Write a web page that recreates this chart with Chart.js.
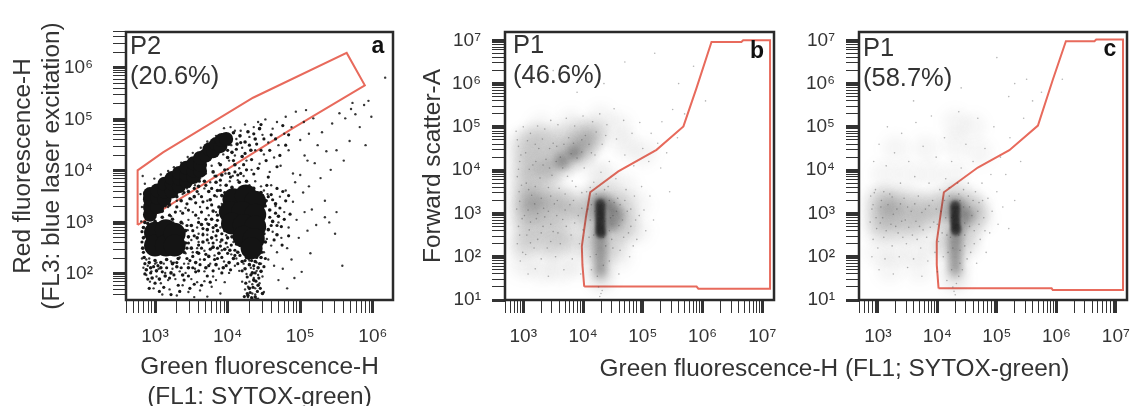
<!DOCTYPE html>
<html>
<head>
<meta charset="utf-8">
<script src="https://cdn.jsdelivr.net/npm/chart.js@4"></script>
<style>
  body { margin: 0; background: #fff; width: 1132px; height: 406px; overflow: hidden; position: relative; }
  canvas { position: absolute; top: 0; filter: blur(0.4px); }
  #wideTitle { position: absolute; left: 599px; top: 354px; width: 471px; white-space: nowrap; text-align: center;
    font: 24.4px "Liberation Sans", Arial, sans-serif; color: #333; filter: blur(0.3px); }
</style>
</head>
<body>
<canvas id="panelA" width="410" height="412" style="left:0"></canvas>
<canvas id="panelB" width="380" height="412" style="left:410px"></canvas>
<canvas id="panelC" width="342" height="412" style="left:790px"></canvas>
<div id="wideTitle">Green fluorescence-H (FL1; SYTOX-green)</div>
<script>
// all values are log10 decades

// panel a
const aGate = [[2.76,2.95],[2.76,4.01],[3.11,4.36],[4.35,5.42],[5.64,6.29],[5.89,5.66],[4.9,4.83],[3.62,3.7],[2.76,2.95]];
const aBlobs = [[4.08,3.45],[4.25,3.52],[4.38,3.4],[4.03,3.2],[4.2,3.2],[4.38,3.15],[4.06,2.98],[4.22,2.95],[4.38,2.92],[4.22,2.72],[4.36,2.68],[4.33,2.5],
  [3.0,2.8],[3.0,2.55],[3.15,2.85],[3.15,2.55],[3.27,2.78],[3.27,2.55]];
const aBand = [[2.93,3.15],[2.93,3.3],[2.93,3.45],[2.93,3.55],[3.03,3.3],[3.03,3.48],[3.03,3.62],[3.13,3.45],[3.13,3.6],[3.13,3.75],[3.23,3.6],[3.23,3.75],[3.23,3.86],[3.33,3.7],[3.33,3.85],[3.33,3.96],[3.43,3.8],[3.43,3.92],[3.43,4.06],[3.53,3.88],[3.53,4.0],[3.53,4.15],[3.62,4.0],[3.62,4.12],[3.62,4.25],[3.7,4.3],[3.75,4.42],[3.8,4.38],[3.84,4.52],[3.9,4.48],[3.92,4.6],[3.98,4.62]];
const aSpeckle = [[2.86,3.0],[2.9,3.12],[2.98,3.22],[3.06,3.34],[3.1,3.22],[3.16,3.46],[3.22,3.56],[3.28,3.66],[3.2,3.34],[3.3,3.5],[3.36,3.72],[3.42,3.76],[3.36,3.42],[3.46,3.6],[3.5,3.82],[3.54,3.5],[3.58,3.92],[3.6,3.7],[3.66,4.02],[3.68,3.8],[3.7,4.2],[3.74,3.6],[3.78,4.3],[3.8,3.98],[3.84,3.78],[3.86,4.34],[3.9,4.12],[3.92,3.92],[3.96,4.46],[4.0,4.26],[4.02,4.52],[4.06,4.36],[4.08,4.74],[4.1,4.12],[4.13,4.52],[4.17,4.68],[4.2,4.28],[4.24,4.56],[4.28,4.76],[4.32,4.4],[4.38,4.62],[4.44,4.82],
  [3.76,3.44],[3.8,3.22],[3.86,3.62],[3.88,3.3],[3.78,3.06],[3.92,3.52],[3.84,2.94],[3.98,3.72],[4.06,3.68],[4.16,3.78],[4.26,3.8],[4.36,3.66],[4.46,3.58],[4.53,3.42],[4.58,3.24],[4.62,3.02],[4.56,2.86],[4.52,2.62],[4.5,2.78],[4.48,3.52],[4.66,3.36],[4.7,3.12],[4.68,2.76],
  [2.84,2.9],[2.84,2.7],[2.83,2.5],[2.85,2.32],[2.92,2.22],[3.0,2.26],[3.08,2.22],[3.16,2.28],[3.24,2.2],[3.32,2.3],[3.4,2.42],[3.42,2.6],[3.42,2.84],[3.36,3.0],[3.24,3.06],[3.1,3.1],[3.0,3.02],[2.9,2.98],[3.46,2.72],[3.5,2.5],[3.5,2.94],[3.58,2.7],[3.6,2.4],[3.64,2.96],[3.66,2.62],[3.72,2.86],[3.74,2.34],[3.78,2.7],[3.8,2.52],[3.86,2.84],[3.88,2.4],[3.92,2.66],[3.94,2.92],[3.96,2.48],[4.0,2.7],[4.03,2.46],[4.06,2.72],[4.08,2.3],[4.02,2.22],[3.94,2.12],[3.84,2.18],[3.7,2.12],[3.56,2.22],[3.46,2.12],
  [4.14,2.42],[4.18,2.56],[4.2,2.24],[4.26,2.32],[4.24,2.1],[4.3,2.18],[4.34,2.02],[4.38,2.24],[4.42,2.12],[4.46,2.32],[4.46,2.05],[4.36,1.88],[4.3,1.72],[4.38,1.55],[4.42,1.78],[4.48,1.62],[4.28,1.58],[4.34,1.5],
  [2.88,2.08],[2.94,2.12],[3.02,2.06],[3.08,2.12],[3.14,1.96],[3.22,2.02],[3.3,2.14],[3.38,1.98],[3.06,1.9],[2.96,1.92]];
const aFill = [[3.32,3.62],[3.4,3.58],[3.47,3.7],[3.54,3.66],[3.61,3.8],[3.48,3.46],[3.56,3.38],[3.64,3.5],[3.7,3.72],[3.78,3.66],[3.84,3.9],[3.9,3.82],[3.96,4.02],[4.02,3.95],[3.44,3.36],[3.58,3.6],[3.66,3.4],[3.72,3.28],[3.82,3.52],[3.9,3.62],[3.96,3.58],[4.04,3.88],[4.1,3.98],[4.18,3.95],[3.3,3.3],[3.38,3.18],[3.46,3.24],[3.56,3.14],[3.64,3.2],[3.7,3.06],[3.78,3.34],[3.86,3.14],[3.92,3.2],[3.28,3.2],[3.2,3.14],[3.14,3.32],
  [3.44,2.94],[3.52,2.84],[3.6,3.0],[3.66,2.88],[3.74,2.96],[3.8,2.9],[3.86,3.04],[3.92,2.78],[3.46,2.6],[3.54,2.74],[3.6,2.56],[3.66,2.76],[3.72,2.66],[3.8,2.6],[3.84,2.74],[3.9,2.54],[3.96,2.84],[3.98,2.6],[3.44,2.5],[3.52,2.34],[3.58,2.42],[3.64,2.5],[3.7,2.38],[3.76,2.48],[3.82,2.28],[3.86,2.5],[3.92,2.32],[4.0,2.4],[4.05,2.56],[4.1,2.46],[3.48,2.26],[3.56,2.04],[3.62,2.18],[3.68,2.28],[3.74,2.16],[3.8,2.06],[3.86,2.3],[3.92,2.02],[3.98,2.16],[4.04,2.08],[4.1,2.36],
  [4.12,2.58],[4.14,2.2],[4.17,2.36],[4.2,2.06],[4.22,2.42],[4.24,2.26],[4.27,1.94],[4.29,2.3],[4.32,1.98],[4.33,2.26],[4.36,2.16],[4.38,2.02],[4.4,2.32],[4.43,1.92],[4.44,2.2],[4.47,2.42],[4.5,2.14],[4.52,2.3],[4.25,1.82],[4.31,1.64],[4.35,1.74],[4.39,1.86],[4.41,1.66],[4.45,1.72],[4.27,1.62],[4.33,1.54],[4.4,1.5],[4.23,1.56],
  [4.52,3.32],[4.56,3.5],[4.58,3.1],[4.6,2.94],[4.62,3.44],[4.64,2.66],[4.66,3.18],[4.68,2.94],[4.72,3.28],[4.74,2.92],[4.75,2.56],[4.78,3.06],[4.8,3.42],[4.84,2.74],[4.86,3.16],[4.54,3.72],[4.6,3.54],[4.68,3.66],[4.76,3.6],[4.84,3.52],
  [4.0,4.4],[4.04,4.6],[4.08,4.2],[4.12,4.42],[4.14,3.92],[4.18,4.55],[4.22,4.12],[4.24,4.34],[4.26,4.02],[4.3,4.5],[4.33,4.22],[4.36,3.94],[4.36,4.72],[4.4,4.52],[4.42,4.05],[4.46,4.4],[4.46,4.9],[4.5,4.62],[4.53,4.2],[4.56,3.88],[4.58,4.4],[4.6,4.7],[4.66,4.62],[4.68,4.08],[4.72,4.3],[4.76,4.88],[4.8,4.5],[4.84,4.7],
  [2.82,2.62],[2.82,2.82],[2.84,2.42],[2.86,2.2],[2.86,2.0],[2.9,1.9],[2.94,2.02],[2.98,2.14],[3.04,2.16],[3.1,2.04],[3.12,1.74],[3.16,2.12],[3.2,1.92],[3.26,1.98],[3.3,2.22],[3.32,1.78],[3.36,2.12],[3.4,1.88],[3.44,2.3],[3.46,1.96],[3.52,2.12],[3.54,1.8],[3.6,2.06],[3.64,1.78],[3.72,1.96],[3.76,1.84],[2.92,1.72],[3.0,1.82],[3.06,1.66],[3.22,1.6],[3.34,1.66],[3.48,1.72]];
const aDots = [[2.83,3.9],[2.86,3.75],[2.8,3.55],[2.82,3.3],[2.81,3.02],[2.84,2.9],[2.99,3.85],[3.08,3.93],[3.18,4.0],[3.26,4.07],[3.36,4.16],[3.45,4.27],[3.52,4.35],[3.63,4.45],[3.72,4.57],[3.84,4.68],[3.95,4.83],[4.04,4.85],[4.1,4.78],
  [3.0,3.1],[3.08,3.2],[3.18,3.3],[3.22,3.12],[3.3,3.42],[3.38,3.55],[3.42,3.28],[3.44,3.66],[3.5,3.45],[3.55,3.72],[3.6,3.55],[3.62,3.85],[3.68,3.66],[3.7,3.95],[3.76,3.78],[3.78,4.1],[3.82,3.9],[3.88,4.15],[3.9,3.72],[3.94,4.32],[3.97,3.95],[4.02,4.2],[4.03,3.8],[3.35,3.22],[3.52,3.2],[3.62,3.3],[3.72,3.42],[3.85,3.5],[3.92,3.36],[3.46,3.05],[3.6,3.08],[3.74,3.14],[3.84,3.2],[3.12,3.03],[3.25,3.0],
  [4.05,4.5],[4.1,4.3],[4.12,4.62],[4.16,4.05],[4.18,4.78],[4.2,4.45],[4.24,4.9],[4.26,4.2],[4.3,4.66],[4.33,4.02],[4.36,4.85],[4.38,4.4],[4.42,4.95],[4.44,4.14],[4.48,4.7],[4.5,4.32],[4.52,5.0],[4.56,4.55],[4.58,3.98],[4.62,4.82],[4.64,4.26],[4.68,4.95],[4.7,4.5],[4.73,4.1],[4.78,4.72],[4.8,5.05],[4.84,4.4],[4.88,4.85],[4.9,3.95],[4.94,5.15],[5.0,4.6],[5.05,4.95],[5.1,4.2],[3.9,4.48],[4.0,4.03],[4.07,3.9],[4.14,3.82],[4.22,3.9],[4.3,3.72],[4.38,3.8],[4.46,3.7],
  [3.38,2.98],[3.45,2.85],[3.5,2.66],[3.52,2.42],[3.58,2.9],[3.6,2.62],[3.62,2.28],[3.66,2.78],[3.68,2.45],[3.72,2.98],[3.74,2.6],[3.76,2.2],[3.8,2.82],[3.82,2.36],[3.85,2.66],[3.88,2.1],[3.9,2.9],[3.92,2.46],[3.95,2.24],[3.98,2.75],[4.0,2.52],[4.02,2.02],[4.05,2.38],[4.08,2.62],[4.1,2.16],[3.42,2.4],[3.46,2.2],[3.55,2.1],[3.68,2.05],[3.8,1.95],[3.34,2.32],[3.22,2.24],[3.12,2.2],[3.0,2.2],[2.88,2.28],[3.58,2.5],[3.72,2.76],[3.9,2.62],[3.78,2.5],[3.6,2.78],
  [2.85,2.72],[2.83,2.5],[2.82,2.3],[2.84,2.12],[2.88,1.98],[2.9,2.16],[2.93,1.85],[2.95,2.05],[2.98,1.72],[3.02,1.95],[3.05,2.1],[3.08,1.82],[3.1,1.6],[3.14,2.02],[3.18,1.88],[3.2,1.7],[3.24,2.1],[3.28,1.9],[3.3,1.58],[3.34,2.05],[3.38,1.78],[3.42,2.02],[3.46,1.65],[3.5,1.9],[3.54,1.55],[3.58,1.84],[3.62,1.68],[3.68,1.86],[3.72,1.56],[3.78,1.75],[3.84,1.88],[3.9,1.62],[3.96,1.84],[3.02,2.22],[2.92,2.3],[3.16,2.28],[3.26,2.22],[3.4,2.2],
  [4.12,2.3],[4.16,2.06],[4.2,1.85],[4.22,2.2],[4.24,1.7],[4.26,2.0],[4.28,1.55],[4.3,1.85],[4.32,2.12],[4.34,1.62],[4.36,1.92],[4.38,1.72],[4.4,2.06],[4.42,1.52],[4.44,1.82],[4.46,2.2],[4.48,1.95],[4.5,1.65],[4.3,2.26],[4.4,2.22],[4.36,2.1],[4.42,1.98],[4.28,1.75],[4.34,1.8],[4.38,1.6],
  [4.5,2.42],[4.54,2.68],[4.56,2.28],[4.6,2.55],[4.62,2.82],[4.64,2.16],[4.66,3.32],[4.68,2.42],[4.7,3.0],[4.72,3.5],[4.74,2.7],[4.76,2.1],[4.78,3.2],[4.8,3.62],[4.82,2.5],[4.84,2.9],[4.88,2.28],[4.9,3.4],[4.93,3.78],[4.95,3.05],[4.98,2.7],[5.02,2.04],[5.04,3.58],[5.06,3.2],[5.1,2.84],[5.14,2.4],[4.7,1.88],[4.82,1.72],[4.92,1.92],[4.55,3.55],[4.6,3.72],[4.5,3.62],
  [5.0,3.92],[5.06,4.3],[5.12,3.7],[5.16,3.25],[5.2,4.15],[5.22,2.95],[5.24,4.5],[5.28,3.86],[5.3,4.75],[5.34,3.42],[5.36,4.38],[5.4,3.0],[5.42,4.02],[5.44,4.92],[5.48,2.78],[5.5,4.4],[5.54,5.12],[5.58,2.16],[5.6,4.2],[5.62,5.02],[5.68,4.58],[5.72,5.32],[5.76,5.1],[5.82,4.85],[5.88,5.28],[5.7,5.2],[5.5,3.2],[5.34,3.1],[5.94,5.36],[6.17,5.81],[5.9,4.5],[5.98,5.05],[5.12,4.72],[5.18,5.02],[5.08,5.18]];

// panel b
const bGate = [[4.02,1.31],[3.99,1.81],[3.98,2.24],[4.05,2.93],[4.12,3.49],[4.59,3.97],[5.23,4.47],[5.68,5.01],[5.9,5.9],[6.15,6.96],[6.65,6.96],[6.68,7.0],[7.13,7.0],[7.13,1.26],[5.93,1.26],[5.9,1.31],[4.02,1.31]];
const bFaint = [[3.0,1.8],[3.3,1.7],[3.6,1.7],[3.9,1.8],[4.6,2.0],[4.9,2.6],[4.9,3.2],[4.7,3.6],[4.4,3.8],[4.2,4.0],[4.7,4.6],[5.0,4.4],[4.6,5.0],[4.3,5.2],[3.8,5.1],[3.3,5.0],[3.0,2.2],[3.5,2.2],[3.9,2.3]];
const bFog = [[2.98,4.6],[3.15,4.75],[3.35,4.7],[3.6,4.75],[3.9,4.85],[4.15,4.9],[2.98,4.2],[3.15,4.3],[3.35,4.35],[3.6,4.4],[3.85,4.55],[4.05,4.65],[2.98,3.8],[3.15,3.9],[3.35,4.0],[3.55,4.05],[3.75,4.25],[3.95,4.4],
  [3.4,3.95],[3.7,4.25],[4.0,4.5],[4.2,4.75],
  [2.98,3.4],[3.15,3.5],[3.35,3.45],[3.55,3.4],[3.75,3.3],[2.98,3.05],[3.15,3.1],[3.35,3.1],[3.55,3.1],[3.75,3.05],[3.95,3.0],[3.0,2.75],[3.2,2.75],[3.4,2.75],[3.6,2.7],[3.1,3.25],[3.25,3.25],
  [3.0,2.35],[3.25,2.35],[3.5,2.3],[3.75,2.4],
  [4.1,3.3],[4.25,3.4],[4.45,3.35],[4.65,3.2],[4.1,2.95],[4.3,3.0],[4.5,3.0],[4.7,2.9],[4.15,2.6],[4.3,2.65],[4.5,2.65],[4.7,2.6],[4.15,2.25],[4.3,2.2],[4.5,2.25],[4.3,1.85],[4.3,1.5]];
const bMid = [[4.22,3.25],[4.3,3.3],[4.42,3.25],[4.22,3.0],[4.4,3.05],[4.5,3.1],[4.58,2.95],[4.4,2.8],[4.5,2.75],[4.3,2.6],[4.29,2.45],[4.29,2.25],[4.29,2.05],[4.29,1.85],[4.29,1.65],[3.65,4.2],[3.85,4.4]];
const bCore = [[4.29,3.22],[4.29,3.12],[4.29,3.02],[4.29,2.92],[4.29,2.82],[4.29,2.72],[4.29,2.62],[4.3,2.54]];
const bDots = [[2.88,4.9],[2.92,4.55],[2.94,4.2],[2.9,3.85],[2.93,3.5],[2.89,3.1],[2.92,2.7],[2.9,2.3],[2.95,1.9],[3.0,5.0],[3.04,4.4],[3.05,3.7],[3.02,2.95],[3.06,2.5],[3.04,2.05],[3.08,1.6],[3.12,4.85],[3.16,4.12],[3.14,3.42],[3.12,2.8],[3.18,2.2],[3.2,1.72],[3.24,5.02],[3.26,4.5],[3.28,3.82],[3.24,3.0],[3.3,2.55],[3.3,1.95],[3.36,4.95],[3.38,4.25],[3.42,3.6],[3.36,2.92],[3.4,2.2],[3.42,1.55],[3.46,5.15],[3.5,4.62],[3.48,3.88],[3.52,3.22],[3.5,2.58],[3.54,2.0],[3.58,5.05],[3.62,4.3],[3.6,3.58],[3.66,2.86],[3.62,2.3],[3.68,1.7],[3.72,5.2],[3.76,4.75],[3.74,3.86],[3.78,3.2],[3.8,2.5],[3.82,1.95],[3.86,5.02],[3.9,4.28],[3.88,3.62],[3.92,2.95],[3.94,2.3],[3.96,1.6],[4.0,5.25],[4.04,4.8],[4.02,4.05],[4.06,3.5],[4.08,3.1],[4.1,2.45],[4.12,2.0],[4.16,5.12],[4.2,4.35],[4.18,3.72],[4.22,3.45],[4.24,2.78],[4.14,1.7],[4.28,5.3],[4.32,4.6],[4.3,3.95],[4.36,3.55],[4.34,2.45],[4.26,1.3],[4.3,1.15],[4.28,1.08],[4.32,1.22],[4.4,5.05],[4.44,4.2],[4.42,3.62],[4.46,2.9],[4.48,2.4],[4.44,1.9],[4.52,5.42],[4.56,4.72],[4.55,3.8],[4.58,3.35],[4.6,2.72],[4.62,2.15],[4.6,1.6],[4.68,5.15],[4.7,4.35],[4.72,3.55],[4.74,3.05],[4.76,2.55],[4.78,2.0],[4.82,4.85],[4.85,4.1],[4.86,3.4],[4.88,2.85],[4.9,2.4],[4.95,5.1],[5.0,4.5],[4.98,3.62],[5.02,3.08],[5.05,2.6],[5.1,4.2],[5.14,4.85],[5.12,3.4],[5.18,2.85],[5.25,4.62],[5.3,4.05],[5.32,5.12],[5.4,4.4],[5.45,3.5],[5.5,5.4],[5.58,4.75],[5.6,6.0],[5.7,5.3],[5.85,6.4],[6.05,5.6],[4.7,6.5],[3.5,6.3],[3.9,5.8],[5.2,6.7],[4.35,6.0],
  [2.9,4.7],[2.96,4.35],[2.92,4.02],[2.97,3.65],[2.94,3.28],[2.98,2.88],[2.94,2.5],[2.99,2.1],[3.07,4.68],[3.1,4.02],[3.09,3.55],[3.08,3.08],[3.1,2.62],[3.12,2.32],[3.2,4.6],[3.21,4.2],[3.2,3.62],[3.19,3.22],[3.22,2.88],[3.24,2.4],[3.32,4.72],[3.33,4.12],[3.3,3.35],[3.34,3.12],[3.33,2.7],[3.44,4.5],[3.44,4.05],[3.46,3.4],[3.42,3.05],[3.46,2.75],[3.46,2.35],[3.56,4.55],[3.55,4.2],[3.57,3.3],[3.56,2.95],[3.58,2.55],[3.68,4.6],[3.66,4.05],[3.7,3.45],[3.7,3.08],[3.72,2.7],[3.8,4.38],[3.84,4.62],[3.82,3.75],[3.84,3.3],[3.86,2.78],[3.98,4.7],[3.98,4.42],[3.98,3.48],[3.98,3.12],[4.0,2.62],[4.1,4.6],[4.14,4.4],[4.12,3.6],[4.14,3.2],[4.12,2.85],[4.2,3.05],[4.18,2.5],[4.22,4.88],[4.38,4.8],[4.36,3.2],[4.36,2.82],[4.38,2.25],[4.22,2.05],[4.34,1.8],[4.24,1.55],[4.44,3.3],[4.44,2.6],[4.5,2.95],[4.52,3.25],[4.5,2.2],[4.56,3.05],[4.62,3.2],[4.66,2.85],[4.68,2.45],[4.7,3.3],[4.8,3.1],[4.8,2.7],[4.84,2.25],[4.94,2.95]];

// panel c
const cGate = [[4.02,1.27],[3.99,1.81],[3.99,2.35],[4.05,2.93],[4.11,3.49],[4.68,4.06],[5.21,4.46],[5.69,5.03],[5.94,6.09],[6.16,6.98],[6.64,6.98],[6.67,7.02],[7.12,7.02],[7.12,1.23],[5.94,1.23],[5.92,1.27],[4.02,1.27]];
const cFog = [[2.98,3.3],[3.15,3.35],[3.35,3.3],[3.55,3.25],[3.75,3.2],[3.95,3.2],[2.98,2.95],[3.15,3.0],[3.3,3.0],[3.5,2.95],[3.7,2.9],[3.9,2.9],[3.0,2.65],[3.2,2.65],[3.4,2.65],[3.65,2.65],[3.2,3.15],
  [4.15,3.3],[4.3,3.4],[4.5,3.3],[4.65,3.15],[4.15,3.0],[4.35,3.0],[4.55,3.0],[4.7,2.9],[4.2,2.65],[4.35,2.65],[4.55,2.65],[4.15,2.3],[4.3,2.25],[4.5,2.3],[4.3,1.85],[4.3,1.5]];
const cFaint = [[3.0,2.1],[3.3,2.1],[3.6,2.1],[3.9,2.2],[3.2,1.7],[3.7,1.7],[3.1,3.9],[3.5,3.9],[3.9,3.9],[4.3,3.9],[3.3,4.5],[3.8,4.5],[4.3,4.6],[4.7,4.4],[4.3,5.1],[4.6,5.0]];
const cMid = [[4.25,3.25],[4.38,3.2],[4.22,3.0],[4.4,3.0],[4.5,2.95],[4.4,2.75],[4.32,2.55],[4.3,2.4],[4.3,2.22],[4.3,2.05],[4.3,1.88],[4.3,1.7]];
const cCore = [[4.3,3.18],[4.3,3.08],[4.3,2.98],[4.3,2.88],[4.3,2.78],[4.31,2.68],[4.31,2.6]];
const cDots = [[2.88,3.4],[2.9,3.1],[2.87,2.8],[2.92,2.4],[2.9,2.0],[2.93,4.2],[2.96,3.55],[2.98,2.65],[3.0,2.2],[3.02,1.7],[3.02,4.6],[3.06,3.3],[3.08,2.9],[3.1,2.45],[3.12,1.95],[3.14,4.1],[3.16,5.0],[3.2,3.45],[3.22,2.75],[3.24,2.25],[3.26,1.6],[3.28,4.4],[3.32,3.1],[3.34,2.55],[3.36,2.0],[3.38,3.7],[3.4,4.85],[3.44,3.35],[3.46,2.85],[3.48,2.3],[3.5,1.75],[3.52,4.2],[3.56,3.05],[3.58,2.5],[3.6,1.95],[3.62,3.85],[3.64,5.1],[3.68,3.4],[3.7,2.7],[3.72,2.2],[3.74,1.55],[3.76,4.55],[3.8,3.1],[3.82,2.45],[3.84,1.9],[3.86,3.7],[3.9,5.25],[3.92,3.3],[3.94,2.8],[3.96,2.1],[3.98,4.3],[4.0,1.65],[4.04,3.55],[4.06,3.05],[4.08,2.55],[4.1,2.0],[4.12,4.75],[4.14,3.8],[4.16,1.45],[4.2,3.6],[4.22,2.45],[4.24,4.2],[4.26,1.3],[4.3,1.12],[4.28,1.2],[4.32,1.38],[4.34,3.7],[4.36,5.35],[4.38,2.15],[4.4,4.05],[4.42,1.7],[4.44,3.55],[4.46,2.5],[4.48,4.6],[4.5,1.95],[4.52,3.7],[4.54,3.15],[4.56,2.1],[4.6,4.2],[4.62,2.6],[4.64,3.5],[4.66,1.85],[4.68,5.2],[4.7,3.25],[4.72,2.4],[4.75,3.7],[4.78,2.9],[4.8,4.5],[4.82,2.1],[4.85,3.35],[4.88,2.55],[4.9,3.9],[4.92,3.05],[4.95,5.0],[5.0,3.5],[5.02,2.75],[5.06,4.3],[5.1,3.15],[5.15,3.9],[5.2,2.65],[5.22,4.75],[5.3,3.3],[5.4,4.2],[5.45,5.2],[5.6,5.6],[5.3,6.0],[5.5,6.1],[5.2,5.7],[5.75,5.8],[4.0,6.2],[5.0,6.6],[4.4,5.9],[3.6,5.6],[6.1,6.1],
  [2.92,3.2],[2.97,2.9],[2.94,3.48],[3.05,3.15],[3.04,2.78],[3.1,3.5],[3.14,2.6],[3.17,3.2],[3.24,3.38],[3.26,2.98],[3.3,2.7],[3.38,3.22],[3.4,2.82],[3.42,2.45],[3.5,3.15],[3.52,2.68],[3.62,3.22],[3.64,2.82],[3.66,2.4],[3.74,3.02],[3.76,2.62],[3.86,3.18],[3.88,2.68],[3.98,3.1],[4.0,2.75],[4.02,2.35],[4.12,3.3],[4.14,2.9],[4.16,2.5],[4.18,2.1],[4.2,3.4],[4.24,2.9],[4.26,2.2],[4.24,1.7],[4.36,3.45],[4.38,3.3],[4.36,2.5],[4.38,1.85],[4.36,1.55],[4.44,3.15],[4.46,2.78],[4.46,2.25],[4.52,3.4],[4.54,2.7],[4.58,2.95],[4.6,3.3],[4.62,2.3],[4.68,3.05],[4.7,2.75],[4.76,3.3],[4.8,2.6]];

// axis ticks
const minorSteps = [1, 2, 3, 4, 5, 6, 7, 8, 9];
const decadesAll = [1, 2, 3, 4, 5, 6, 7];
const superscripts = { 1: '\u00b9', 2: '\u00b2', 3: '\u00b3', 4: '\u2074', 5: '\u2075', 6: '\u2076', 7: '\u2077' };

// labels inside each box
const aLabels = ['P2', '(20.6%)', 'a'];
const bLabels = ['P1', '(46.6%)', 'b'];
const cLabels = ['P1', '(58.7%)', 'c'];

const fontName = '"Liberation Sans", Arial, sans-serif';
const inkColor = '#333';
const gateColor = '#e86a5c';

function toXY(pairs) {
  return pairs.map(p => ({ x: Math.pow(10, p[0]), y: Math.pow(10, p[1]) }));
}

function buildTicks(min, max) {
  const out = [];
  decadesAll.forEach(d => minorSteps.forEach(s => {
    const v = s * Math.pow(10, d);
    if (Math.log10(v) >= min - 0.001 && Math.log10(v) <= max + 0.001) out.push({ value: v });
  }));
  return out;
}

function isDecade(v) {
  const l = Math.log10(v);
  return Math.abs(l - Math.round(l)) < 1e-6;
}

function makeAxis(min, max, tickTop, pad, extra) {
  return Object.assign({
    type: 'logarithmic',
    bounds: 'data',
    min: Math.pow(10, min),
    max: Math.pow(10, max),
    grid: {
      drawOnChartArea: false,
      drawTicks: true,
      tickLength: 13,
      tickColor: '#333',
      tickWidth: ctx => (ctx.tick && isDecade(ctx.tick.value) ? 3 : 1)
    },
    border: { display: false },
    afterBuildTicks: axis => { axis.ticks = buildTicks(min, tickTop); },
    ticks: {
      autoSkip: false,
      maxRotation: 0,
      padding: pad,
      color: inkColor,
      font: { family: fontName, size: 19 },
      callback: v => (isDecade(v) ? '10' + superscripts[Math.round(Math.log10(v))] : '')
    }
  }, extra);
}

// draws the frame and the P1/P2 text
const panelPlugin = {
  id: 'panelPlugin',
  beforeDatasetDraw(chart, args) {
    const blur = chart.data.datasets[args.index].blurPx;
    if (blur) { chart.ctx.save(); chart.ctx.filter = 'blur(' + blur + 'px)'; }
  },
  afterDatasetDraw(chart, args) {
    if (chart.data.datasets[args.index].blurPx) chart.ctx.restore();
  },
  afterDraw(chart, args, opts) {
    const { ctx, chartArea: a } = chart;
    ctx.save();
    ctx.strokeStyle = '#2a2a2a';
    ctx.lineWidth = 2.5;
    ctx.strokeRect(a.left, a.top, a.right - a.left, a.bottom - a.top);
    ctx.fillStyle = inkColor;
    ctx.textBaseline = 'middle';
    ctx.font = '25.5px ' + fontName;
    ctx.fillText(opts.labels[0], a.left + opts.textLeft, 47 + opts.textDown);
    ctx.fillText(opts.labels[1], a.left + opts.textLeft, 77 + opts.textDown);
    ctx.fillStyle = '#111';
    ctx.font = 'bold 23px ' + fontName;
    ctx.textAlign = 'center';
    ctx.fillText(opts.labels[2], a.right - opts.tagRight, opts.tagY);
    ctx.restore();
  }
};

function layer(pairs, radius, color, blurPx) {
  return { data: toXY(pairs), pointRadius: radius, pointBackgroundColor: color, pointBorderWidth: 0, showLine: false, blurPx: blurPx };
}

function gateLayer(pairs) {
  return { data: toXY(pairs), showLine: true, pointRadius: 0, borderColor: gateColor, borderWidth: 2, fill: false, tension: 0 };
}

function makePanel(id, p) {
  return new Chart(document.getElementById(id), {
    type: 'scatter',
    data: { datasets: p.layers },
    plugins: [panelPlugin],
    options: {
      responsive: false,
      animation: false,
      layout: { autoPadding: false, padding: { left: 0, top: 32, right: p.rightPad, bottom: 0 } },
      scales: {
        x: makeAxis(p.xRange[0], p.xRange[1], p.xTop, 12, {
          afterFit: axis => { axis.height = 112; axis.paddingLeft = 0; axis.paddingRight = 0; },
          title: p.xTitle
        }),
        y: makeAxis(p.yRange[0], p.yRange[1], p.yTop, p.yPad, {
          afterFit: axis => { axis.width = p.left; axis.paddingTop = 0; axis.paddingBottom = 0; },
          title: p.yTitle
        })
      },
      plugins: {
        legend: { display: false },
        tooltip: { enabled: false },
        panelPlugin: { labels: p.labels, textLeft: p.textLeft, textDown: p.textDown, tagRight: p.tagRight, tagY: p.tagY }
      }
    }
  });
}

const titleFont = { family: fontName, size: 24.4, lineHeight: 1.22 };

makePanel('panelA', {
  left: 126, rightPad: 410 - 393, xRange: [2.6, 6.278], yRange: [1.494, 6.696], xTop: 6.0, yTop: 6.7, yPad: 20,
  labels: aLabels, textLeft: 4, textDown: 0, tagRight: 15, tagY: 47,
  layers: [layer(aBlobs, 11, '#141414'), layer(aBand, 7, '#141414'), layer(aSpeckle, 1.8, '#181818'), layer(aFill, 1.6, '#181818'), layer(aDots, 1.2, 'rgba(20,20,20,0.85)'), gateLayer(aGate)],
  xTitle: { display: true, text: ['Green fluorescence-H', '(FL1: SYTOX-green)'], color: inkColor, font: titleFont, padding: 0 },
  yTitle: { display: true, text: ['Red fluorescence-H', '(FL3: blue laser excitation)'], color: inkColor, font: titleFont, padding: { top: 8, bottom: 0 } }
});

makePanel('panelB', {
  left: 95, rightPad: 380 - 364, xRange: [2.694, 7.196], yRange: [1, 7.192], xTop: 7, yTop: 7, yPad: 11,
  labels: bLabels, textLeft: 8, textDown: -1, tagRight: 17, tagY: 52,
  layers: [layer(bFaint, 13, 'rgba(90,90,90,0.07)', 6), layer(bFog, 12, 'rgba(70,70,70,0.15)', 6), layer(bMid, 7, 'rgba(50,50,50,0.26)', 3), layer(bCore, 5, 'rgba(15,15,15,0.75)', 1.5), layer(bDots, 0.8, 'rgba(60,60,60,0.38)'), gateLayer(bGate)],
  xTitle: { display: false },
  yTitle: { display: true, text: 'Forward scatter-A', color: inkColor, font: titleFont, padding: { top: 8, bottom: 0 } }
});

makePanel('panelC', {
  left: 69, rightPad: 342 - 337, xRange: [2.683, 7.187], yRange: [1, 7.192], xTop: 7, yTop: 7, yPad: 11,
  labels: cLabels, textLeft: 4, textDown: 2, tagRight: 17, tagY: 50,
  layers: [layer(cFaint, 13, 'rgba(90,90,90,0.06)', 6), layer(cFog, 12, 'rgba(70,70,70,0.14)', 6), layer(cMid, 7, 'rgba(50,50,50,0.26)', 3), layer(cCore, 5, 'rgba(15,15,15,0.75)', 1.5), layer(cDots, 0.8, 'rgba(60,60,60,0.38)'), gateLayer(cGate)],
  xTitle: { display: false },
  yTitle: { display: false }
});
</script>
</body>
</html>
